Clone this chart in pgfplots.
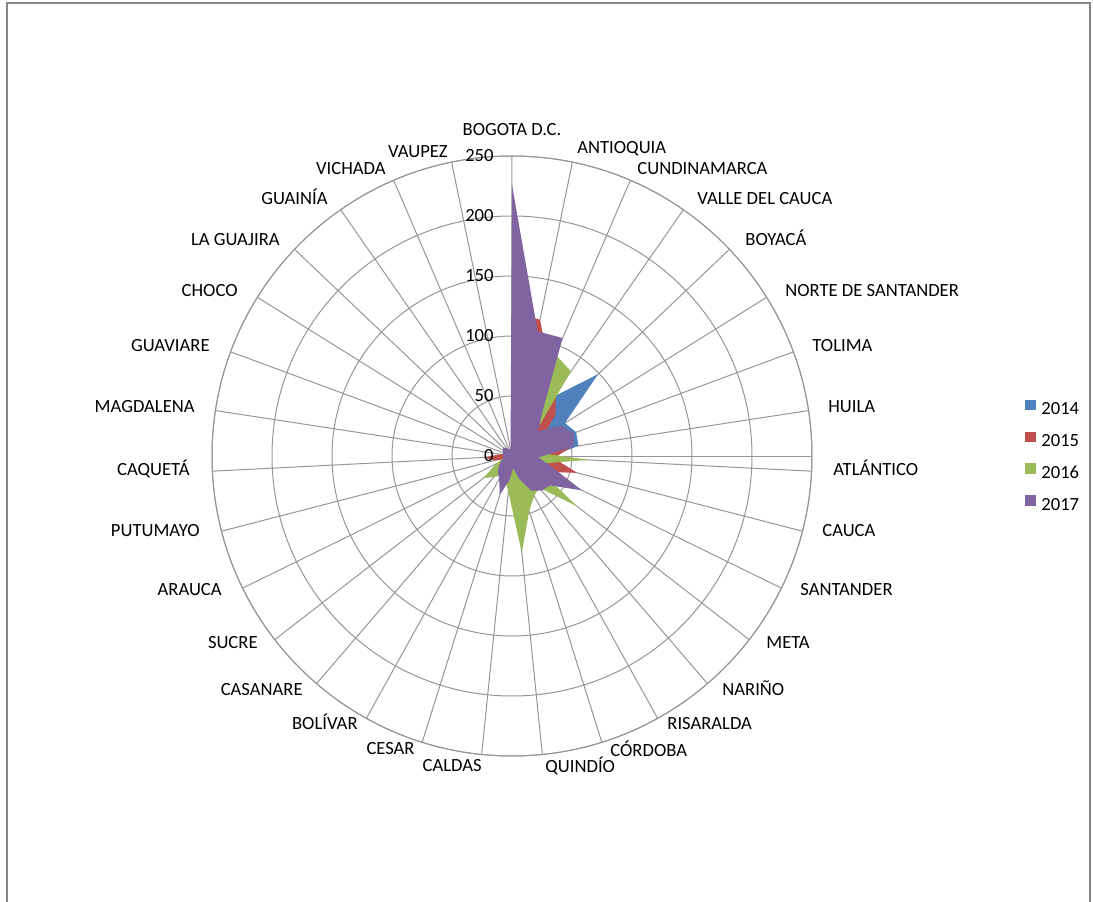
\documentclass[border=0pt]{standalone}
\usepackage{fontspec}
\setmainfont{Carlito}
\usepackage{pgfplots}
\usepackage{pgfplotstable}
\usepgfplotslibrary{polar}
\pgfplotsset{compat=1.18}

\definecolor{c14}{HTML}{4F81BD}
\definecolor{c15}{HTML}{C0504D}
\definecolor{c16}{HTML}{9BBB59}
\definecolor{c17}{HTML}{8064A2}
\definecolor{gridc}{RGB}{150,150,150}
\definecolor{framec}{RGB}{134,134,134}

% k = department index, clockwise from BOGOTA D.C.; last row closes the polygon
\pgfplotstableread{
k  b   r   g   p
0  70  120 90  226
1  60  116 80  106
2  55  80  92  107
3  60  64  86  44
4  99  50  25  30
5  52  30  15  48
6  57  40  15  55
7  56  50  20  52
8  30  35  64  22
9  25  56  25  33
10 20  30  25  65
11 20  25  68  40
12 20  20  35  38
13 15  15  38  33
14 15  15  48  20
15 15  12  81  10
16 15  12  30  20
17 12  10  20  34
18 10  10  18  22
19 8   8   23  18
20 8   8   30  14
21 6   6   15  10
22 5   15  8   8
23 4   24  5   7
24 4   10  4   8
25 3   4   3   8
26 3   4   3   9
27 3   4   3   10
28 2   3   2   8
29 2   3   2   6
30 2   3   2   6
31 70  120 90  226
}\datos

\newcommand\lblfont{\fontsize{9.3}{11}\selectfont}

\begin{document}
\begin{tikzpicture}[x=0.5pt,y=0.5pt,
  dep/.style={font=\lblfont, inner sep=0pt, text height=5.9pt, text depth=0pt}]
\begin{polaraxis}[
  scale only axis, width=300pt, height=300pt,
  xmin=0, xmax=360, ymin=0, ymax=250,
  xtick={8.70968,20.32258,...,358}, xticklabels={},
  ytick={0,50,...,250}, yticklabels={},
  xmajorgrids, ymajorgrids,
  grid style={gridc, line width=0.5pt},
  axis line style={gridc, line width=0.5pt},
  xtick style={draw=none}, ytick style={draw=none},
  legend style={at={(axis cs:0,0)}, anchor=west, xshift=253.5pt, yshift=0.5pt,
    draw=none, fill=none, font=\lblfont, row sep=8.4pt, column sep=2.8pt,
    nodes={inner sep=0pt, text height=6.5pt, text depth=0pt},
    cells={anchor=west}},
  legend image code/.code={\fill[#1] (0pt,-1pt) rectangle (5.2pt,4.2pt);},
]
\addplot[fill=c14, draw=none] table[x expr={mod(450-\thisrow{k}*360/31,360)}, y=b] {\datos};
\addplot[fill=c15, draw=none] table[x expr={mod(450-\thisrow{k}*360/31,360)}, y=r] {\datos};
\addplot[fill=c16, draw=none] table[x expr={mod(450-\thisrow{k}*360/31,360)}, y=g] {\datos};
\addplot[fill=c17, draw=none] table[x expr={mod(450-\thisrow{k}*360/31,360)}, y=p] {\datos};
\legend{2014,2015,2016,2017}
\coordinate (O) at (axis cs:0,0);
\end{polaraxis}

\begin{scope}[shift={(O)}]
% radial scale, along the BOGOTA D.C. spoke (1.2 units of length per value)
\foreach \v in {0,50,100,150,200,250}
  \node[font=\lblfont, anchor=east, inner sep=0pt] at (-18,1.2*\v) {\v};
% department names around the chart
\node[dep, anchor=center] at (0,326) {BOGOTA D.C.};
\node[dep, anchor=west] at (65,308) {ANTIOQUIA};
\node[dep, anchor=west] at (125,287) {CUNDINAMARCA};
\node[dep, anchor=west] at (185,257) {VALLE DEL CAUCA};
\node[dep, anchor=west] at (233,216) {BOYACÁ};
\node[dep, anchor=west] at (273,165) {NORTE DE SANTANDER};
\node[dep, anchor=west] at (300,110) {TOLIMA};
\node[dep, anchor=west] at (316,49) {HUILA};
\node[dep, anchor=west] at (321,-14) {ATLÁNTICO};
\node[dep, anchor=west] at (310,-75) {CAUCA};
\node[dep, anchor=west] at (288,-134) {SANTANDER};
\node[dep, anchor=west] at (254,-187) {META};
\node[dep, anchor=west] at (210,-234) {NARIÑO};
\node[dep, anchor=west] at (155,-268) {RISARALDA};
\node[dep, anchor=west] at (98,-295) {CÓRDOBA};
\node[dep, anchor=west] at (33,-311) {QUINDÍO};
\node[dep, anchor=east] at (-30,-310) {CALDAS};
\node[dep, anchor=east] at (-97,-293) {CESAR};
\node[dep, anchor=east] at (-154,-268) {BOLÍVAR};
\node[dep, anchor=east] at (-209,-234) {CASANARE};
\node[dep, anchor=east] at (-254,-187) {SUCRE};
\node[dep, anchor=east] at (-290,-134) {ARAUCA};
\node[dep, anchor=east] at (-312,-75) {PUTUMAYO};
\node[dep, anchor=east] at (-322,-14) {CAQUETÁ};
\node[dep, anchor=east] at (-317,49) {MAGDALENA};
\node[dep, anchor=east] at (-302,110) {GUAVIARE};
\node[dep, anchor=east] at (-274,165) {CHOCO};
\node[dep, anchor=east] at (-232,216) {LA GUAJIRA};
\node[dep, anchor=east] at (-184,257) {GUAINÍA};
\node[dep, anchor=east] at (-126,287) {VICHADA};
\node[dep, anchor=east] at (-64,304) {VAUPEZ};
% chart area border
\draw[framec, line width=0.6pt] (-505,-460) -- (-505,453) -- (578,453) -- (578,-460);
\pgfresetboundingbox
\useasboundingbox (-512,-445) rectangle (581,456);
\end{scope}
\end{tikzpicture}
\end{document}
